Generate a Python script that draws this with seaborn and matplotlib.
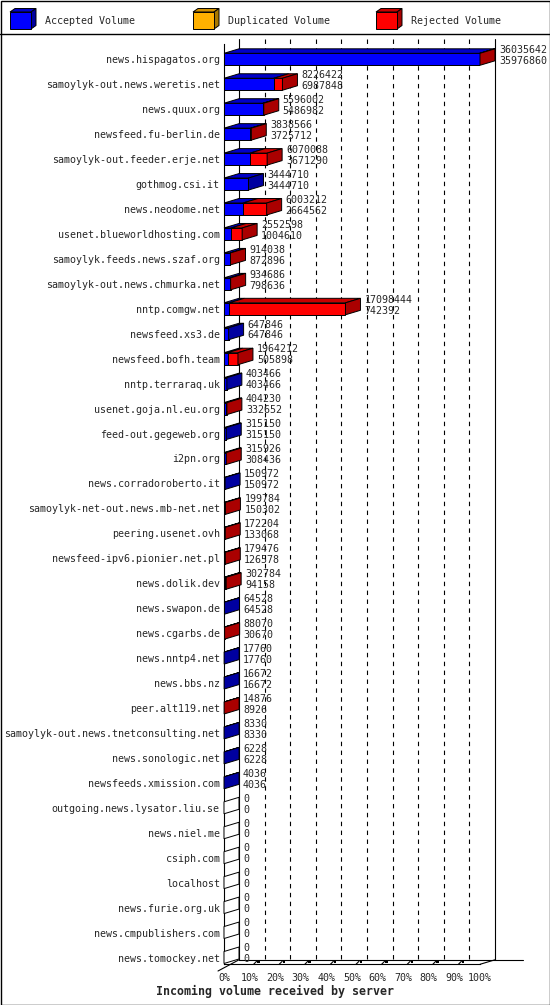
import matplotlib
matplotlib.use("Agg")
import matplotlib.pyplot as plt
import matplotlib.transforms as mtransforms
from matplotlib.patches import Polygon, Rectangle
from matplotlib.lines import Line2D
import numpy as np
import pandas as pd
import seaborn as sns

# ---------------- data ----------------
servers = [
    "news.hispagatos.org", "samoylyk-out.news.weretis.net", "news.quux.org",
    "newsfeed.fu-berlin.de", "samoylyk-out.feeder.erje.net", "gothmog.csi.it",
    "news.neodome.net", "usenet.blueworldhosting.com", "samoylyk.feeds.news.szaf.org",
    "samoylyk-out.news.chmurka.net", "nntp.comgw.net", "newsfeed.xs3.de",
    "newsfeed.bofh.team", "nntp.terraraq.uk", "usenet.goja.nl.eu.org",
    "feed-out.gegeweb.org", "i2pn.org", "news.corradoroberto.it",
    "samoylyk-net-out.news.mb-net.net", "peering.usenet.ovh",
    "newsfeed-ipv6.pionier.net.pl", "news.dolik.dev", "news.swapon.de",
    "news.cgarbs.de", "news.nntp4.net", "news.bbs.nz", "peer.alt119.net",
    "samoylyk-out.news.tnetconsulting.net", "news.sonologic.net",
    "newsfeeds.xmission.com", "outgoing.news.lysator.liu.se", "news.niel.me",
    "csiph.com", "localhost", "news.furie.org.uk", "news.cmpublishers.com",
    "news.tomockey.net",
]
total_volume = [
    36035642, 8226422, 5596002, 3838566, 6070088, 3444710, 6003212, 2552598,
    914038, 934686, 17098444, 647846, 1964212, 403466, 404230, 315150, 315926,
    150972, 199784, 172204, 179476, 302784, 64528, 88070, 17760, 16672, 14876,
    8330, 6228, 4036, 0, 0, 0, 0, 0, 0, 0,
]
accepted_volume = [
    35976860, 6987848, 5486982, 3725712, 3671290, 3444710, 2664562, 1004610,
    872896, 798636, 742392, 647846, 505898, 403466, 332652, 315150, 308436,
    150972, 150302, 133068, 126578, 94158, 64528, 30670, 17760, 16672, 8926,
    8330, 6228, 4036, 0, 0, 0, 0, 0, 0, 0,
]
legend_labels = ["Accepted Volume", "Duplicated Volume", "Rejected Volume"]
tick_labels = ["0%", "10%", "20%", "30%", "40%", "50%", "60%", "70%", "80%", "90%", "100%"]
title_text = "Incoming volume received by server"

# ---------------- style ----------------
sns.set_style("white")
plt.rcParams["font.family"] = ["DejaVu Sans Mono", "DejaVu Sans"]
FS = 7.2

BLUE, BLUE_TOP, BLUE_SIDE = "#0000ff", "#0000c8", "#0000a0"
ORANGE, ORANGE_TOP, ORANGE_SIDE = "#ffb000", "#d09000", "#a87800"
RED, RED_TOP, RED_SIDE = "#ff0000", "#c80000", "#aa0000"

W, H = 550, 1005
fig = plt.figure(figsize=(W / 100, H / 100), dpi=100)
fig.patch.set_facecolor("white")

# pixel transform (origin at top-left)
pix = mtransforms.Affine2D().scale(1, -1).translate(0, H)

# front plane geometry (pixels)
FX0, FX1 = 224, 480
FY0, FY1 = 44, 964.3
ROW0, PITCH = 59.3, 24.95
DXP, DYP = 15, 4.5   # 3D depth offset in pixels (right, up)

ax = fig.add_axes([FX0 / W, (H - FY1) / H, (FX1 - FX0) / W, (FY1 - FY0) / H])

df = pd.DataFrame({"server": servers, "total": total_volume, "accepted": accepted_volume})
xmax = float(max(total_volume))

sns.barplot(data=df, x="total", y="server", order=servers, orient="y", color=RED,
            saturation=1, width=0.48, edgecolor="black", linewidth=0.7,
            errorbar=None, ax=ax)
sns.barplot(data=df, x="accepted", y="server", order=servers, orient="y", color=BLUE,
            saturation=1, width=0.48, edgecolor="black", linewidth=0.7,
            errorbar=None, ax=ax)
for p in ax.patches:
    p.set_zorder(3)

ax.set_xlim(0, xmax)
ax.set_ylim((FY1 - ROW0) / PITCH, (FY0 - ROW0) / PITCH)
ax.set_xlabel("")
ax.set_ylabel("")
ax.set_facecolor("none")

# data-unit size of one pixel
px_x = xmax / (FX1 - FX0)
px_y = 1.0 / PITCH
DX = DXP * px_x
DY = -DYP * px_y
ytop, ybot = ax.get_ylim()[1], ax.get_ylim()[0]

for s in ["top", "right"]:
    ax.spines[s].set_visible(False)
for s in ["left", "bottom"]:
    ax.spines[s].set_color("black")
    ax.spines[s].set_linewidth(0.8)

ax.set_xticks([xmax * k / 10 for k in range(11)])
ax.set_xticklabels(tick_labels, fontsize=FS)
ax.tick_params(axis="x", length=4, width=0.8, color="black", pad=2.5, direction="out")
ax.tick_params(axis="y", length=0, pad=3, labelsize=FS)

# back wall
lw = 0.8
for xv in [0, xmax]:
    ax.add_line(Line2D([xv + DX, xv + DX], [ytop + DY, ybot + DY], color="black",
                       lw=lw, clip_on=False, zorder=1))
for k in range(1, 10):
    xv = xmax * k / 10 + DX
    ax.add_line(Line2D([xv, xv], [ytop + DY, ybot + DY], color="black", lw=lw,
                       ls=(0, (4, 4)), clip_on=False, zorder=1))

# floor
ax.add_line(Line2D([xmax, xmax + DX], [ybot, ybot + DY], color="black", lw=lw,
                   clip_on=False, zorder=1))
ax.add_line(Line2D([DX, DX + 284 * px_x], [ybot + DY, ybot + DY], color="black",
                   lw=lw, clip_on=False, zorder=1))
ax.add_line(Line2D([-6 * px_x, DX], [ybot + 6.7 * px_y, ybot + DY], color="black",
                   lw=lw, clip_on=False, zorder=1))
for k in range(1, 10):
    xv = xmax * k / 10
    ax.add_line(Line2D([xv + 4 * px_x, xv + 7 * px_x], [ybot, ybot - 3 * px_y],
                       color="black", lw=lw, clip_on=False, zorder=2))
    ax.add_patch(Rectangle((xv + 7.5 * px_x, ybot - 3.5 * px_y), 2.5 * px_x, 2.5 * px_y,
                           facecolor="black", edgecolor="none", clip_on=False, zorder=2))

# 3D top and side faces + value labels
half = 0.24
for i, (tot, acc) in enumerate(zip(total_volume, accepted_volume)):
    y0, y1 = i - half, i + half
    segs = []
    if acc > 0:
        segs.append((0, acc, BLUE_TOP))
    if tot > acc:
        segs.append((acc, tot, RED_TOP))
    for a, b, c in segs:
        ax.add_patch(Polygon([(a, y0), (b, y0), (b + DX, y0 + DY), (a + DX, y0 + DY)],
                             closed=True, facecolor=c, edgecolor="black", lw=0.7,
                             clip_on=False, zorder=4))
    if tot == 0:
        side = "white"
    elif tot > acc:
        side = RED_SIDE
    else:
        side = BLUE_SIDE
    ax.add_patch(Polygon([(tot, y0), (tot + DX, y0 + DY), (tot + DX, y1 + DY), (tot, y1)],
                         closed=True, facecolor=side, edgecolor="black", lw=0.7,
                         clip_on=False, zorder=4))
    xt = tot + DX + 4 * px_x
    ax.text(xt, i - 0.37, f"{tot}", fontsize=FS, ha="left", va="center", zorder=5,
            clip_on=False)
    ax.text(xt, i + 0.07, f"{acc}", fontsize=FS, ha="left", va="center", zorder=5,
            clip_on=False)

# ---------------- legend / frame ----------------
fig.add_artist(Rectangle((0.5, 0.5), W - 1, H - 1, transform=pix, fill=False,
                         edgecolor="black", lw=1.0))
fig.add_artist(Line2D([0, W], [33.5, 33.5], transform=pix, color="black", lw=1.0))

leg_x = [10, 193, 376]
leg_cols = [(BLUE, BLUE_TOP, BLUE_SIDE), (ORANGE, ORANGE_TOP, ORANGE_SIDE),
            (RED, RED_TOP, RED_SIDE)]
for lx, lab, (cf, ct, cs) in zip(leg_x, legend_labels, leg_cols):
    bx0, bx1, by0, by1 = lx, lx + 21, 12, 29
    ddx, ddy = 5, 3.5
    fig.add_artist(Polygon([(bx0, by0), (bx1, by0), (bx1 + ddx, by0 - ddy), (bx0 + ddx, by0 - ddy)],
                           closed=True, transform=pix, facecolor=ct, edgecolor="black", lw=0.7))
    fig.add_artist(Polygon([(bx1, by0), (bx1 + ddx, by0 - ddy), (bx1 + ddx, by1 - ddy), (bx1, by1)],
                           closed=True, transform=pix, facecolor=cs, edgecolor="black", lw=0.7))
    fig.add_artist(Rectangle((bx0, by0), bx1 - bx0, by1 - by0, transform=pix,
                             facecolor=cf, edgecolor="black", lw=0.7))
    fig.text(lx + 35, 20.5, lab, transform=pix, fontsize=FS, ha="left", va="center")

fig.text(W / 2, 991.7, title_text, transform=pix, fontsize=8.4, fontweight="bold",
         ha="center", va="center")

fig.savefig("out.png", dpi=100)
